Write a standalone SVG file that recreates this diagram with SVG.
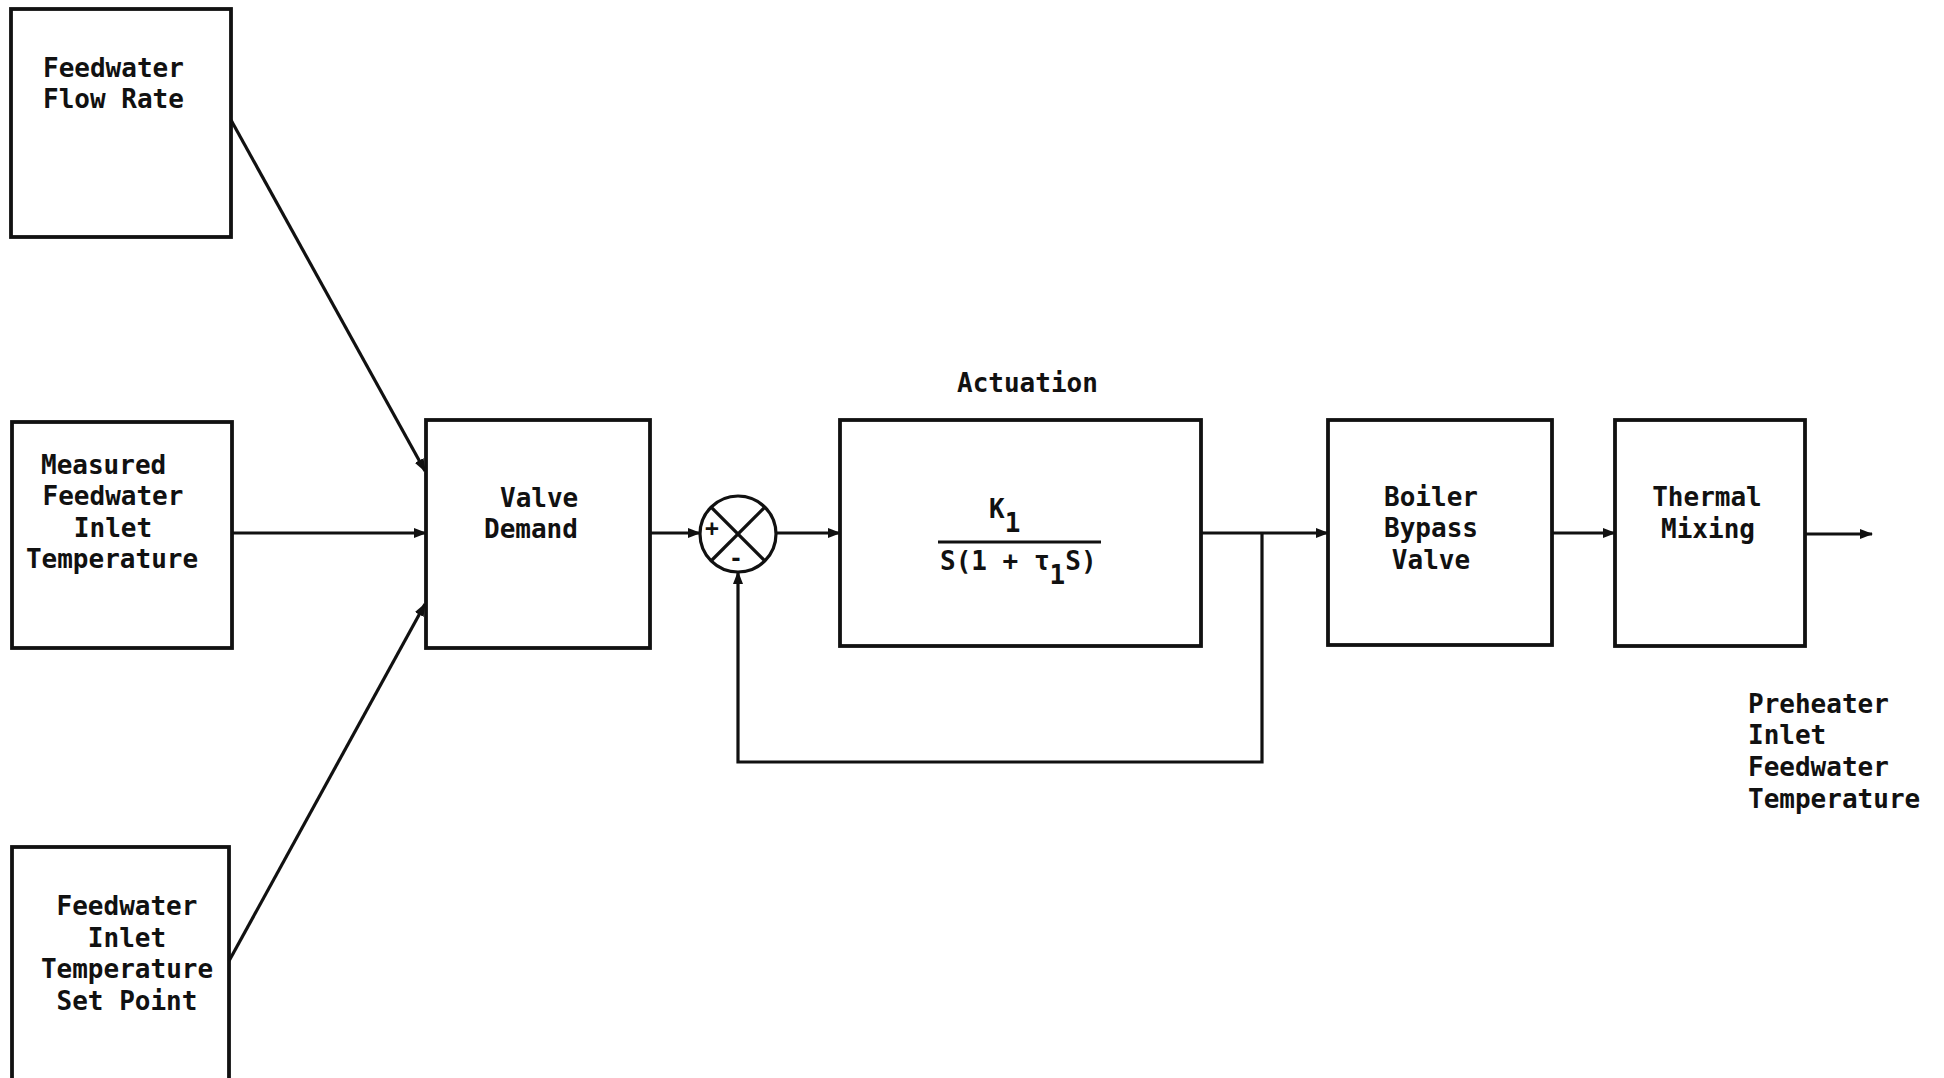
<svg xmlns="http://www.w3.org/2000/svg" width="1944" height="1078" viewBox="0 0 1944 1078">
<style>
.box{fill:none;stroke:#111;stroke-width:3.8}
.ln{fill:none;stroke:#111;stroke-width:3.2}
.t{font-family:"DejaVu Sans Mono","Liberation Mono",monospace;font-weight:bold;font-size:26px;fill:#111}
.m{text-anchor:middle}
</style>
<defs>
<marker id="ah" markerUnits="userSpaceOnUse" markerWidth="13" markerHeight="10" refX="12" refY="5" orient="auto">
<path d="M0,0 L13,5 L0,10 z" fill="#111"/>
</marker>
</defs>
<rect width="1944" height="1078" fill="#fff"/>
<g id="connectors">
<line class="ln" x1="231" y1="120" x2="425" y2="471" marker-end="url(#ah)"/>
<line class="ln" x1="232" y1="533" x2="426" y2="533" marker-end="url(#ah)"/>
<line class="ln" x1="229" y1="961" x2="425" y2="604" marker-end="url(#ah)"/>
<line class="ln" x1="650" y1="533" x2="700" y2="533" marker-end="url(#ah)"/>
<line class="ln" x1="776" y1="533" x2="840" y2="533" marker-end="url(#ah)"/>
<line class="ln" x1="1201" y1="533" x2="1328" y2="533" marker-end="url(#ah)"/>
<polyline class="ln" points="1262,533 1262,762 738,762 738,572" marker-end="url(#ah)"/>
<line class="ln" x1="1552" y1="533" x2="1615" y2="533" marker-end="url(#ah)"/>
<line class="ln" x1="1805" y1="534" x2="1872" y2="534" marker-end="url(#ah)"/>
</g>
<g id="feedwater-flow-rate">
<rect class="box" x="11" y="9" width="220" height="228"/>
<text class="t" x="43" y="77">Feedwater</text>
<text class="t" x="43" y="108">Flow Rate</text>
</g>
<g id="measured-temperature">
<rect class="box" x="12" y="422" width="220" height="226"/>
<text class="t" x="41" y="474">Measured</text>
<text class="t m" x="113" y="505">Feedwater</text>
<text class="t m" x="113" y="537">Inlet</text>
<text class="t m" x="112" y="568">Temperature</text>
</g>
<g id="set-point">
<rect class="box" x="12" y="847" width="217" height="245"/>
<text class="t m" x="127" y="915">Feedwater</text>
<text class="t m" x="127" y="947">Inlet</text>
<text class="t m" x="127" y="978">Temperature</text>
<text class="t m" x="127" y="1010">Set Point</text>
</g>
<g id="valve-demand">
<rect class="box" x="426" y="420" width="224" height="228"/>
<text class="t" x="500" y="507">Valve</text>
<text class="t" x="484" y="538">Demand</text>
</g>
<g id="summing-junction">
<circle class="ln" cx="738" cy="534" r="38"/>
<line class="ln" x1="711" y1="507" x2="765" y2="561"/>
<line class="ln" x1="765" y1="507" x2="711" y2="561"/>
<text class="t" x="705" y="536" style="font-size:23px">+</text>
<text class="t" x="729" y="566" style="font-size:23px">-</text>
</g>
<g id="actuation">
<text class="t" x="957" y="392">Actuation</text>
<rect class="box" x="840" y="420" width="361" height="226"/>
<text class="t" x="989" y="518">K<tspan dy="14">1</tspan></text>
<line class="ln" x1="938" y1="542" x2="1101" y2="542" stroke-width="2.5"/>
<text class="t" x="940" y="570">S(1 + τ<tspan dy="14">1</tspan><tspan dy="-14">S)</tspan></text>
</g>
<g id="boiler-bypass-valve">
<rect class="box" x="1328" y="420" width="224" height="225"/>
<text class="t m" x="1431" y="506">Boiler</text>
<text class="t m" x="1431" y="537">Bypass</text>
<text class="t m" x="1431" y="569">Valve</text>
</g>
<g id="thermal-mixing">
<rect class="box" x="1615" y="420" width="190" height="226"/>
<text class="t m" x="1707" y="506">Thermal</text>
<text class="t m" x="1708" y="538">Mixing</text>
</g>
<g id="output-label">
<text class="t" x="1748" y="713">Preheater</text>
<text class="t" x="1748" y="744">Inlet</text>
<text class="t" x="1748" y="776">Feedwater</text>
<text class="t" x="1748" y="808">Temperature</text>
</g>
</svg>
